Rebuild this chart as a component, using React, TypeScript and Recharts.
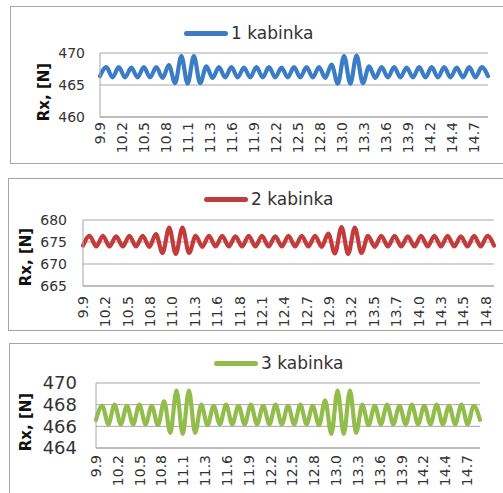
import { LineChart, Line, XAxis, YAxis, CartesianGrid } from 'recharts';

// time axis: one sample per half wave (peak / trough)
const TIME_START = 9.95;
const TIME_STEP = 0.08;

// Rx, [N] for each cabin
const cabin1Rx = [
  466.4, 467.8, 466.2, 467.8, 466.2, 467.7, 466.2, 467.8, 466.2, 467.8,
  466.1, 468.1, 465.3, 469.5, 465.2, 469.5, 465.3, 467.9, 466.1, 467.8,
  466.2, 467.8, 466.2, 467.7, 466.2, 467.8, 466.2, 467.8, 466.2, 467.7,
  466.2, 467.8, 466.2, 467.8, 466.2, 467.8, 466.1, 468.2, 465.2, 469.5,
  465.2, 469.6, 465.3, 467.9, 466.1, 467.8, 466.2, 467.8, 466.2, 467.7,
  466.2, 467.8, 466.2, 467.8, 466.2, 467.8, 466.2, 467.7, 466.2, 467.8,
  466.2, 467.8, 466.4,
];
const cabin2Rx = [
  674.2, 676.4, 674.0, 676.4, 674.0, 676.3, 674.0, 676.4, 674.0, 676.4,
  673.9, 676.8, 672.5, 678.3, 672.3, 678.3, 672.5, 676.4, 673.9, 676.4,
  674.0, 676.4, 674.0, 676.3, 674.0, 676.4, 674.0, 676.4, 674.0, 676.3,
  674.0, 676.4, 674.0, 676.4, 674.0, 676.4, 673.9, 676.9, 672.4, 678.4,
  672.3, 678.3, 672.5, 676.4, 673.9, 676.4, 674.0, 676.4, 674.0, 676.3,
  674.0, 676.4, 674.0, 676.4, 674.0, 676.4, 674.0, 676.3, 674.0, 676.4,
  674.0, 676.4, 674.2,
];
const cabin3Rx = [
  466.6, 467.9, 466.2, 468.0, 466.2, 467.9, 466.2, 468.0, 466.2, 467.9,
  466.1, 468.3, 465.4, 469.3, 465.3, 469.3, 465.4, 468.0, 466.1, 467.9,
  466.2, 468.0, 466.2, 467.9, 466.2, 468.0, 466.2, 467.9, 466.2, 468.0,
  466.2, 467.9, 466.2, 468.0, 466.2, 467.9, 466.1, 468.4, 465.3, 469.3,
  465.3, 469.3, 465.4, 468.0, 466.1, 467.9, 466.2, 468.0, 466.2, 467.9,
  466.2, 468.0, 466.2, 467.9, 466.2, 468.0, 466.2, 467.9, 466.2, 468.0,
  466.2, 467.9, 466.6,
];

// category labels shown on the x axis
const cabin1Labels = ['9.9', '10.2', '10.5', '10.8', '11.1', '11.3', '11.6', '11.9', '12.2', '12.5', '12.8', '13.0', '13.3', '13.6', '13.9', '14.2', '14.4', '14.7'];
const cabin2Labels = ['9.9', '10.2', '10.5', '10.8', '11.0', '11.3', '11.6', '11.8', '12.1', '12.4', '12.7', '12.9', '13.2', '13.5', '13.7', '14.0', '14.3', '14.5', '14.8'];
const cabin3Labels = ['9.9', '10.2', '10.5', '10.8', '11.1', '11.3', '11.6', '11.9', '12.2', '12.5', '12.8', '13.0', '13.3', '13.6', '13.9', '14.2', '14.4', '14.7'];

const cabin1YTicks = [460, 465, 470];
const cabin2YTicks = [665, 670, 675, 680];
const cabin3YTicks = [464, 466, 468, 470];

const FONT = '"DejaVu Sans", Verdana, sans-serif';
const GRID = '#a6a6a6';
const TEXT = '#333333';

interface PanelProps {
  name: string;
  values: number[];
  labels: string[];
  labelStep: number;
  yTicks: number[];
  color: string;
  left: number;
  top: number;
  width: number;
  height: number;
  yAxisWidth: number;
  xAxisHeight: number;
  marginTop: number;
  marginRight: number;
  yTickFont: number;
  yTickGap: number;
  xTickGap: number;
  titleX: number;
  titleY: number;
  legendX: number;
  legendY: number;
}

const Panel = (p: PanelProps) => {
  const data = p.values.map((v, i) => ({ t: TIME_START + i * TIME_STEP, rx: v }));
  const tEnd = TIME_START + (p.values.length - 1) * TIME_STEP;
  const xTicks = p.labels.map((_, k) => TIME_START + k * p.labelStep);
  const labelOf = (v: number) => p.labels[Math.round((v - TIME_START) / p.labelStep)] ?? '';

  const renderXTick = (props: any) => {
    const { x, y, payload } = props;
    return (
      <text
        x={x}
        y={y}
        transform={`rotate(-90, ${x}, ${y})`}
        textAnchor="end"
        dominantBaseline="central"
        fontSize={14}
        fontFamily={FONT}
        fill={TEXT}
      >
        {labelOf(payload.value)}
      </text>
    );
  };

  return (
    <div
      style={{
        position: 'absolute',
        left: p.left,
        top: p.top,
        width: 505 - p.left,
        height: p.height,
        border: `1px solid ${GRID}`,
        boxSizing: 'border-box',
        background: '#fff',
      }}
    >
      <div style={{ position: 'absolute', left: -1, top: -1 }}>
        <LineChart
          width={p.width}
          height={p.height}
          data={data}
          margin={{ top: p.marginTop, right: p.marginRight, bottom: 0, left: 0 }}
        >
          <CartesianGrid vertical={false} stroke={GRID} strokeWidth={1} />
          <XAxis
            type="number"
            dataKey="t"
            domain={[TIME_START, tEnd]}
            ticks={xTicks}
            interval={0}
            height={p.xAxisHeight}
            stroke={GRID}
            tickLine={false}
            tickSize={0}
            tickMargin={p.xTickGap}
            tick={renderXTick}
          />
          <YAxis
            type="number"
            domain={[p.yTicks[0], p.yTicks[p.yTicks.length - 1]]}
            ticks={p.yTicks}
            interval={0}
            width={p.yAxisWidth}
            stroke={GRID}
            tickLine={false}
            tickSize={0}
            tickMargin={p.yTickGap}
            tick={{ fontSize: p.yTickFont, fontFamily: FONT, fill: TEXT }}
          />
          <Line
            type="monotone"
            dataKey="rx"
            stroke={p.color}
            strokeWidth={4.2}
            strokeLinecap="round"
            strokeLinejoin="round"
            dot={false}
            isAnimationActive={false}
          />
        </LineChart>
      </div>
      <div
        style={{
          position: 'absolute',
          left: p.titleX,
          top: p.titleY,
          transform: 'translate(-50%, -50%) rotate(-90deg)',
          whiteSpace: 'nowrap',
          fontFamily: FONT,
          fontWeight: 'bold',
          fontSize: 15,
          color: '#111',
        }}
      >
        Rx, [N]
      </div>
      <div
        style={{
          position: 'absolute',
          left: p.legendX,
          top: p.legendY,
          transform: 'translateY(-50%)',
          display: 'flex',
          alignItems: 'center',
          whiteSpace: 'nowrap',
          fontFamily: FONT,
          fontSize: 17,
          color: TEXT,
        }}
      >
        <span style={{ display: 'inline-block', width: 44, height: 5, borderRadius: 3, background: p.color, marginRight: 3 }} />
        {p.name}
      </div>
    </div>
  );
};

export default function App() {
  return (
    <div
      style={{
        position: 'absolute',
        left: 0,
        top: 0,
        width: 503,
        height: 493,
        overflow: 'hidden',
        background: '#fff',
      }}
    >
      <Panel
        name="1 kabinka"
        values={cabin1Rx}
        labels={cabin1Labels}
        labelStep={0.281}
        yTicks={cabin1YTicks}
        color="#3b7cc6"
        left={10}
        top={6}
        width={491}
        height={158}
        yAxisWidth={90}
        xAxisHeight={47}
        marginTop={47}
        marginRight={13}
        yTickFont={14}
        yTickGap={15}
        xTickGap={5}
        titleX={33}
        titleY={85}
        legendX={173}
        legendY={26}
      />
      <Panel
        name="2 kabinka"
        values={cabin2Rx}
        labels={cabin2Labels}
        labelStep={0.27}
        yTicks={cabin2YTicks}
        color="#c33c3c"
        left={8}
        top={178}
        width={493}
        height={153}
        yAxisWidth={75}
        xAxisHeight={45}
        marginTop={42}
        marginRight={7}
        yTickFont={14}
        yTickGap={16}
        xTickGap={10}
        titleX={17}
        titleY={78}
        legendX={195}
        legendY={20}
      />
      <Panel
        name="3 kabinka"
        values={cabin3Rx}
        labels={cabin3Labels}
        labelStep={0.282}
        yTicks={cabin3YTicks}
        color="#92bd4a"
        left={9}
        top={343}
        width={492}
        height={160}
        yAxisWidth={87}
        xAxisHeight={55}
        marginTop={40}
        marginRight={21}
        yTickFont={18}
        yTickGap={19}
        xTickGap={7}
        titleX={16}
        titleY={78}
        legendX={204}
        legendY={19}
      />
    </div>
  );
}
